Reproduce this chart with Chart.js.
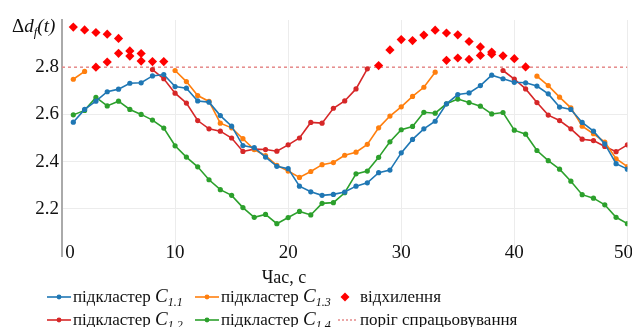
<!DOCTYPE html>
<html><head><meta charset="utf-8">
<script src="https://cdn.jsdelivr.net/npm/chart.js@4"></script>
<style>html,body{margin:0;padding:0;background:#fff}canvas{display:block}</style>
</head><body>
<canvas id="c" width="632" height="327"></canvas>
<script>
const timeSec = [1,2,3,4,5,6,7,8,9,10,11,12,13,14,15,16,17,18,19,20,21,22,23,24,25,26,27,28,29,30,31,32,33,34,35,36,37,38,39,40,41,42,43,44,45,46,47,48,49,50];
const c11 = [2.567,2.621,2.656,2.696,2.707,2.732,2.734,2.763,2.769,2.718,2.711,2.657,2.652,2.595,2.550,2.468,2.459,2.419,2.380,2.370,2.296,2.272,2.257,2.261,2.271,2.296,2.310,2.353,2.364,2.437,2.494,2.539,2.571,2.645,2.684,2.691,2.722,2.766,2.751,2.736,2.734,2.720,2.687,2.631,2.621,2.566,2.529,2.475,2.391,2.368];
const c12 = [null,null,null,null,null,null,null,2.790,2.751,2.690,2.648,2.574,2.539,2.529,2.500,2.443,2.453,2.451,2.444,2.471,2.500,2.566,2.563,2.626,2.657,2.708,2.793,null,null,null,null,null,null,null,null,null,null,null,2.786,2.750,2.708,2.650,2.597,2.574,2.539,2.495,2.489,2.464,2.442,2.471];
const c13 = [2.749,2.782,null,null,null,null,null,null,null,2.786,2.739,2.680,2.655,2.563,2.543,2.497,2.451,2.425,2.384,2.360,2.333,2.358,2.387,2.396,2.427,2.440,2.473,2.543,2.593,2.632,2.676,2.715,2.779,null,null,null,null,null,null,null,null,2.762,2.722,2.673,2.628,2.550,2.518,2.483,2.412,2.379];
const c14 = [2.598,2.617,2.672,2.636,2.656,2.621,2.600,2.576,2.542,2.467,2.419,2.378,2.323,2.281,2.257,2.205,2.164,2.176,2.137,2.163,2.189,2.174,2.223,2.226,2.268,2.348,2.360,2.418,2.484,2.535,2.549,2.609,2.605,2.645,2.665,2.650,2.635,2.602,2.608,2.533,2.516,2.447,2.404,2.368,2.317,2.260,2.245,2.217,2.164,2.137];
const devTime  = [1,2,3,4,5, 3,4,5,6,6,7,7,8,9, 28,29,30,31,32,33,34,35,36,37,38,39,40,41, 34,35,36,37,38];
const devValue = [2.970,2.958,2.947,2.940,2.922, 2.800,2.822,2.859,2.869,2.847,2.858,2.826,2.824,2.824, 2.807,2.873,2.917,2.913,2.936,2.957,2.945,2.937,2.909,2.886,2.864,2.848,2.836,2.801, 2.829,2.839,2.833,2.850,2.855];
const threshold = 2.8;
const xTicks = [0,10,20,30,40,50];
const yTicks = [2.2,2.4,2.6,2.8];

const COL = {c11:'#1f77b4', c12:'#d62728', c13:'#ff7f0e', c14:'#2ca02c', dev:'#ff0000', thr:'#e58a8a'};
const pts = arr => timeSec.map((t,i)=>({x:t, y:arr[i]}));
const lineDs = (label, arr, col) => ({label, data: pts(arr), borderColor: col, backgroundColor: col,
  borderWidth: 1.6, pointRadius: 2.6, pointHoverRadius: 2.6, pointBorderWidth: 0, spanGaps: false, tension: 0});

const SERIF = '"Liberation Serif", "Times New Roman", serif';

function drawRich(ctx, x, y, parts) {
  for (const p of parts) { ctx.font = p.f; ctx.fillText(p.t, x, y + (p.dy||0)); x += ctx.measureText(p.t).width; }
  return x;
}

const extras = {
  id: 'extras',
  afterDraw(chart) {
    const ctx = chart.ctx;
    const xs = chart.scales.x;
    ctx.save();
    ctx.fillStyle = '#111';
    ctx.textBaseline = 'alphabetic';
    // x tick labels (drawn inside the bottom of the plot, as in the reference)
    ctx.font = '19px ' + SERIF;
    ctx.textAlign = 'center';
    xTicks.forEach(v => {
      let px = xs.getPixelForValue(v);
      const w = ctx.measureText(String(v)).width;
      if (v === xs.min) px += 8;
      px = Math.min(px, chart.width - w / 2 + 1);
      ctx.fillText(String(v), px, chart.chartArea.bottom + 2);
    });
    ctx.textAlign = 'left';
    // y-axis title
    drawRich(ctx, 12, 32, [
      {t:'Δ', f:'19px '+SERIF},
      {t:'d', f:'italic 19px '+SERIF},
      {t:'f', f:'italic 13px '+SERIF, dy:4},
      {t:'(t)', f:'italic 19px '+SERIF}
    ]);
    // x-axis title
    ctx.font = '18px ' + SERIF;
    ctx.textAlign = 'center';
    ctx.fillText('Час, с', 284, 283);
    ctx.textAlign = 'left';
    // legend
    const rows = [
      [ {type:'line', col:COL.c11, x:47, sub:'1.1'}, {type:'line', col:COL.c13, x:195, sub:'1.3'}, {type:'dev', x:345, text:'відхилення'} ],
      [ {type:'line', col:COL.c12, x:47, sub:'1.2'}, {type:'line', col:COL.c14, x:195, sub:'1.4'}, {type:'thr', x:338, text:'поріг спрацьовування'} ]
    ];
    const rowY = [302, 325];
    rows.forEach((row, r) => {
      const by = rowY[r], my = by - 5;
      row.forEach(it => {
        if (it.type === 'line') {
          ctx.strokeStyle = it.col; ctx.lineWidth = 1.6;
          ctx.beginPath(); ctx.moveTo(it.x, my); ctx.lineTo(it.x + 24, my); ctx.stroke();
          ctx.fillStyle = it.col; ctx.beginPath(); ctx.arc(it.x + 12, my, 2.4, 0, Math.PI*2); ctx.fill();
          ctx.fillStyle = '#111';
          drawRich(ctx, it.x + 26, by, [
            {t:'підкластер ', f:'17px '+SERIF},
            {t:'C', f:'italic 19px '+SERIF},
            {t:it.sub, f:'italic 12px '+SERIF, dy:4}
          ]);
        } else if (it.type === 'dev') {
          ctx.fillStyle = COL.dev;
          ctx.beginPath(); ctx.moveTo(it.x, my-4.5); ctx.lineTo(it.x+4.5, my); ctx.lineTo(it.x, my+4.5); ctx.lineTo(it.x-4.5, my); ctx.closePath(); ctx.fill();
          ctx.fillStyle = '#111'; ctx.font = '17px ' + SERIF;
          ctx.fillText(it.text, 360, by);
        } else {
          ctx.strokeStyle = COL.thr; ctx.lineWidth = 1.3; ctx.setLineDash([2,2]);
          ctx.beginPath(); ctx.moveTo(it.x, my); ctx.lineTo(it.x + 19, my); ctx.stroke();
          ctx.setLineDash([]);
          ctx.fillStyle = '#111'; ctx.font = '17px ' + SERIF;
          ctx.fillText(it.text, 360, by);
        }
      });
    });
    ctx.restore();
  }
};

new Chart(document.getElementById('c'), {
  type: 'line',
  data: {
    datasets: [
      {label:'відхилення', type:'scatter', data: devTime.map((t,i)=>({x:t,y:devValue[i]})), pointStyle:'rectRot',
       pointRadius: 4.6, pointHoverRadius: 4.6, backgroundColor: COL.dev, borderColor: COL.dev, borderWidth: 0, showLine:false},
      lineDs('підкластер C1.1', c11, COL.c11),
      lineDs('підкластер C1.3', c13, COL.c13),
      lineDs('підкластер C1.2', c12, COL.c12),
      lineDs('підкластер C1.4', c14, COL.c14),
      {label:'поріг спрацьовування', data:[{x:0,y:threshold},{x:50,y:threshold}], borderColor: COL.thr, borderWidth: 1.5,
       borderDash:[3,3], pointRadius:0, pointHoverRadius:0}
    ]
  },
  options: {
    responsive: false, animation: false, devicePixelRatio: 1,
    layout: { padding: { top: 20, right: 0, left: 0, bottom: 0 } },
    plugins: { legend: { display: false }, tooltip: { enabled: false }, title: { display: false } },
    scales: {
      x: {
        type: 'linear', min: 0, max: 50,
        afterBuildTicks: s => { s.ticks = xTicks.map(v=>({value:v})); },
        afterFit: s => { s.height = 71; },
        ticks: { display: false },
        grid: { drawTicks: false, color: ctx => (ctx.tick && ctx.tick.value === 0) ? 'rgba(0,0,0,0)' : '#ececec', lineWidth: 1 },
        border: { display: false }
      },
      y: {
        min: 2.0, max: 3.0,
        afterBuildTicks: s => { s.ticks = [2.0,2.2,2.4,2.6,2.8,3.0].map(v=>({value:v})); },
        afterFit: s => { s.width = 62; },
        ticks: { font: { family: SERIF, size: 19 }, color: '#111', padding: 3,
                 callback: v => yTicks.some(t => Math.abs(t - v) < 1e-6) ? v.toFixed(1) : '' },
        grid: { drawTicks: false, lineWidth: 1,
                color: ctx => { const v = ctx.tick ? ctx.tick.value : 0; return (Math.abs(v-2.2)<1e-6||Math.abs(v-2.4)<1e-6||Math.abs(v-2.6)<1e-6) ? '#ececec' : 'rgba(0,0,0,0)'; } },
        border: { display: true, color: '#aaaaaa', width: 2 }
      }
    }
  },
  plugins: [extras]
});
</script>
</body></html>
